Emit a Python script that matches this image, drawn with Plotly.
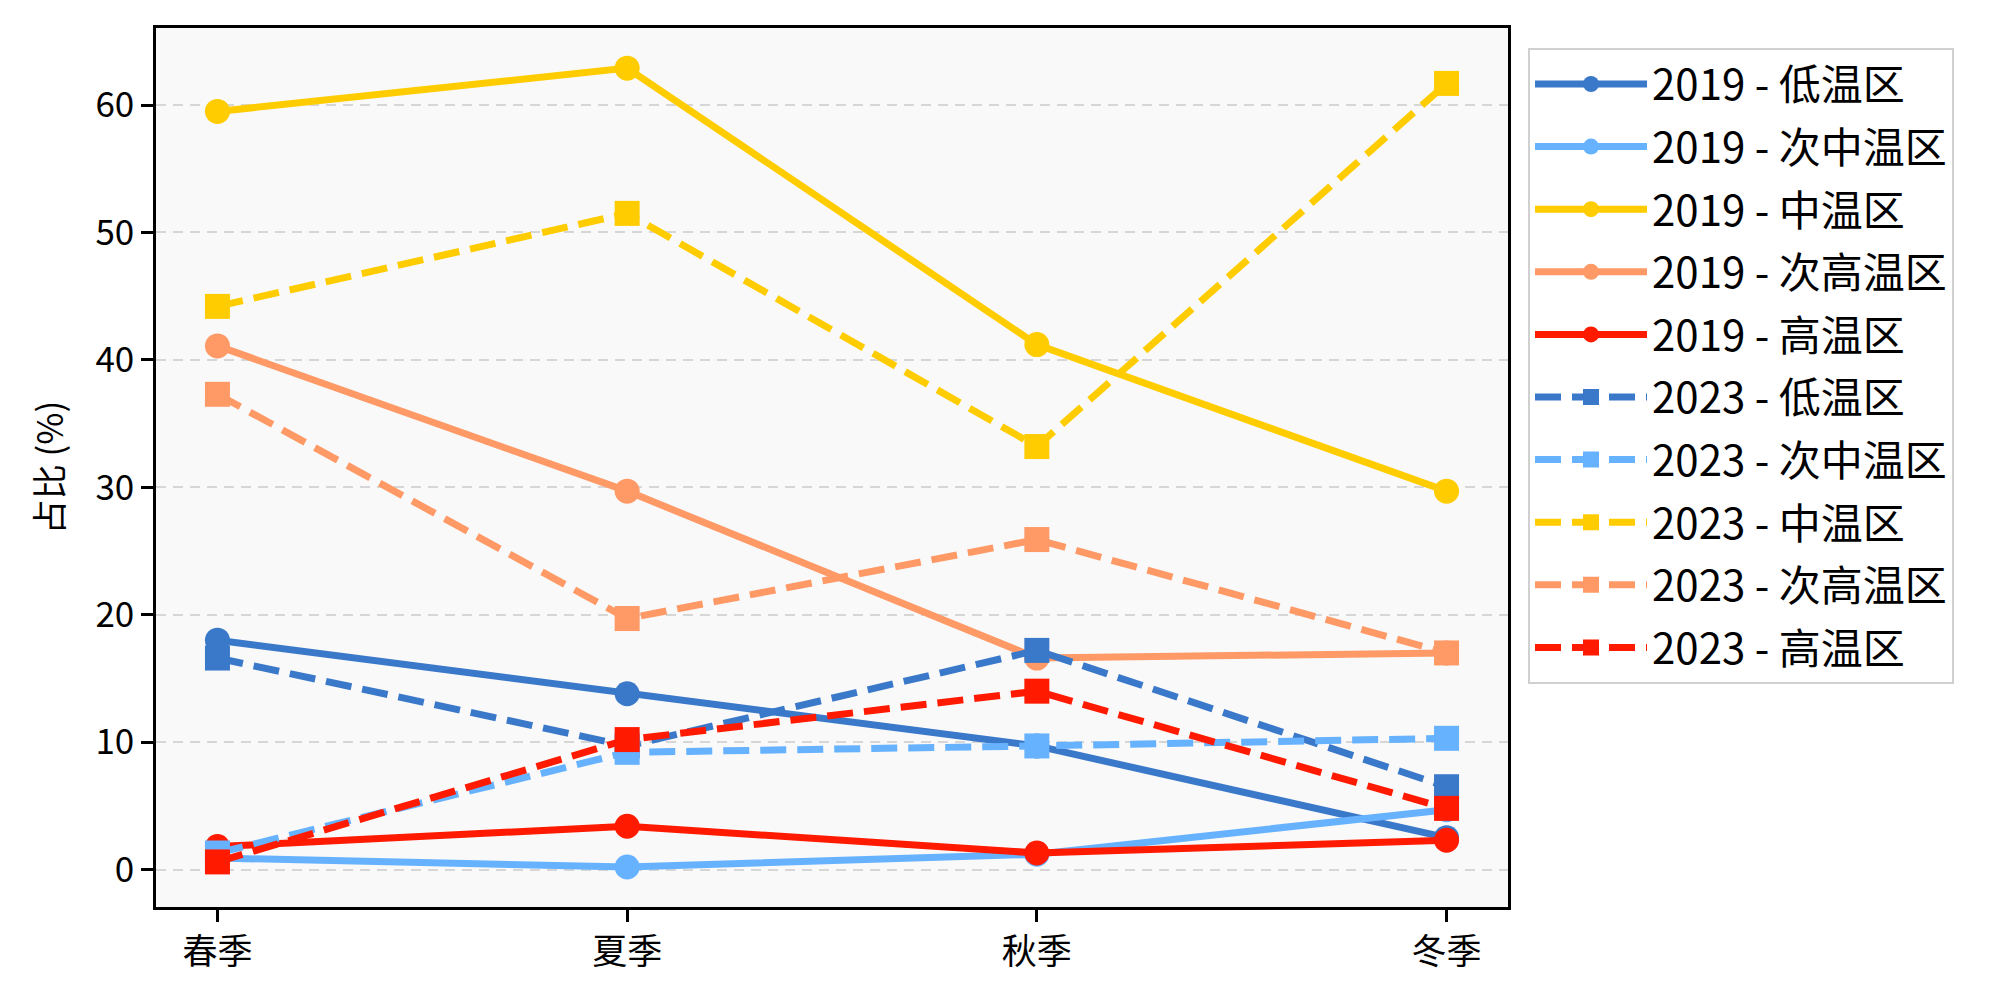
import plotly.graph_objects as go

seasons = ["春季", "夏季", "秋季", "冬季"]
zones = ["低温区", "次中温区", "中温区", "次高温区", "高温区"]
years = ["2019", "2023"]

v2019_low = [18.0, 13.8, 9.7, 2.5]
v2019_submid = [0.9, 0.2, 1.2, 4.7]
v2019_mid = [59.5, 62.9, 41.2, 29.7]
v2019_subhigh = [41.1, 29.7, 16.6, 17.0]
v2019_high = [1.8, 3.4, 1.3, 2.3]

v2023_low = [16.6, 9.7, 17.2, 6.5]
v2023_submid = [1.3, 9.2, 9.7, 10.3]
v2023_mid = [44.2, 51.5, 33.2, 61.7]
v2023_subhigh = [37.3, 19.7, 25.9, 17.0]
v2023_high = [0.6, 10.2, 14.0, 4.8]

colors = ["#3a78c9", "#66b2ff", "#ffcc00", "#ff9966", "#ff1a00"]

data = {
    "2019": [v2019_low, v2019_submid, v2019_mid, v2019_subhigh, v2019_high],
    "2023": [v2023_low, v2023_submid, v2023_mid, v2023_subhigh, v2023_high],
}

FONT = "Noto Sans CJK SC, Microsoft YaHei, sans-serif"

fig = go.Figure()
for year in years:
    for i, zone in enumerate(zones):
        is19 = year == "2019"
        fig.add_trace(go.Scatter(
            x=seasons,
            y=data[year][i],
            mode="lines+markers",
            name=f"{year} - {zone}",
            legendgroup=f"{year}-{zone}",
            line=dict(color=colors[i], width=7,
                      dash="solid" if is19 else "26px,11px"),
            marker=dict(symbol="circle" if is19 else "square",
                        size=25, color=colors[i],
                        line=dict(width=0)),
        ))

fig.update_layout(
    width=2000, height=1003,
    margin=dict(l=156, r=492, t=28, b=96, autoexpand=False),
    paper_bgcolor="white",
    plot_bgcolor="#f9f9f9",
    font=dict(family=FONT, size=35, color="black"),
    showlegend=True,
    legend=dict(
        x=1.0148, y=0.977, xanchor="left", yanchor="top",
        bgcolor="white", bordercolor="#d0d0d0", borderwidth=2,
        font=dict(family=FONT, size=42, color="black"),
        tracegroupgap=5,
        itemwidth=112,
    ),
)

fig.update_xaxes(
    type="category",
    range=[-0.15, 3.15],
    showgrid=False,
    showline=True, linecolor="black", linewidth=2.5, mirror=True,
    ticks="outside", ticklen=12, tickwidth=2.5, tickcolor="black",
    tickfont=dict(family=FONT, size=35, color="black"),
    zeroline=False,
)
fig.update_yaxes(
    range=[-2.94, 66.05],
    tickvals=[0, 10, 20, 30, 40, 50, 60],
    showgrid=True, gridcolor="#d6d6d6", gridwidth=2, griddash="10px,7px",
    showline=True, linecolor="black", linewidth=2.5, mirror=True,
    ticks="outside", ticklen=12, tickwidth=2.5, tickcolor="black",
    tickfont=dict(family=FONT, size=35, color="black"),
    zeroline=False,
    title=dict(text="占比 (%)", font=dict(family=FONT, size=35, color="black"), standoff=22),
)

fig.write_html("out.html", config={"displayModeBar": False},
               post_script="document.body.style.margin='0';")
